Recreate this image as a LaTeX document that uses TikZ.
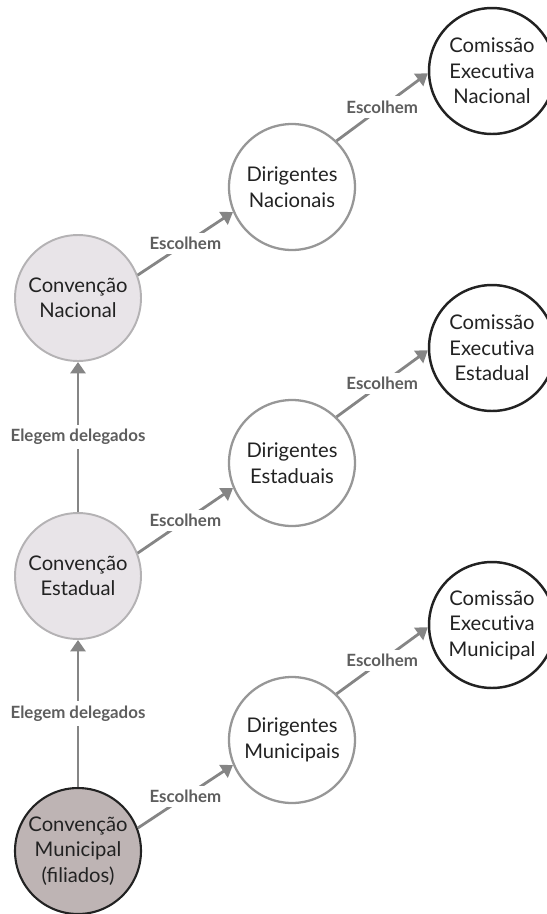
\documentclass[tikz,border=0pt]{standalone}
\usepackage{fontspec}
\setmainfont{Lato}
\usetikzlibrary{arrows.meta}

\definecolor{convfill}{HTML}{E8E4E8}
\definecolor{convline}{HTML}{B4B2B4}
\definecolor{basefill}{HTML}{BEB4B4}
\definecolor{inkdark}{HTML}{222222}
\definecolor{flowgray}{HTML}{858585}
\definecolor{lblgray}{HTML}{5E5E5E}

\begin{document}
\begin{tikzpicture}[x=0.02cm,y=-0.02cm,
    bubble/.style={circle, minimum size=2.52cm, inner sep=0pt, align=center,
        text=inkdark, font=\fontsize{11.5}{14.5}\selectfont},
    conv/.style={bubble, fill=convfill, draw=convline, line width=1.1pt},
    convbase/.style={bubble, fill=basefill, draw=inkdark, line width=1.2pt},
    dirig/.style={bubble, fill=white, draw=flowgray!85, line width=1.3pt},
    comis/.style={bubble, fill=white, draw=inkdark, line width=1.4pt},
    flow/.style={draw=flowgray, line width=1.6pt, -{Triangle[length=6.5pt,width=8.5pt]}},
    lbl/.style={fill=white, inner sep=2.5pt, text=lblgray, font=\fontsize{9.6}{11}\bfseries}]

\useasboundingbox (0,0) rectangle (547,914);

% Conventions
\node[conv] (nac) at (78,298) {Convenção\\Nacional};
\node[conv] (est) at (78,576) {Convenção\\Estadual};
\node[convbase] (mun) at (78,851) {Convenção\\Municipal\\(filiados)};

% Leaders
\node[dirig] (dirN) at (292,187) {Dirigentes\\Nacionais};
\node[dirig] (dirE) at (292,463) {Dirigentes\\Estaduais};
\node[dirig] (dirM) at (292,740) {Dirigentes\\Municipais};

% Executive committees
\node[comis] (comN) at (492,71) {Comissão\\Execut\kern0pt iva\\Nacional};
\node[comis] (comE) at (492,348) {Comissão\\Execut\kern0pt iva\\Estadual};
\node[comis] (comM) at (492,625) {Comissão\\Execut\kern0pt iva\\Municipal};

% Delegates
\draw[flow] (mun) -- node[lbl] {Elegem delegados} (est);
\draw[flow] (est) -- node[lbl] {Elegem delegados} (nac);

% Choices
\foreach \c/\d/\e in {nac/dirN/comN, est/dirE/comE, mun/dirM/comM} {
    \draw[flow] (\c.21) -- node[lbl] {Escolhem} (\d.203);
    \draw[flow] (\d.46) -- node[lbl] {Escolhem} (\e.182);
}

\end{tikzpicture}
\end{document}
